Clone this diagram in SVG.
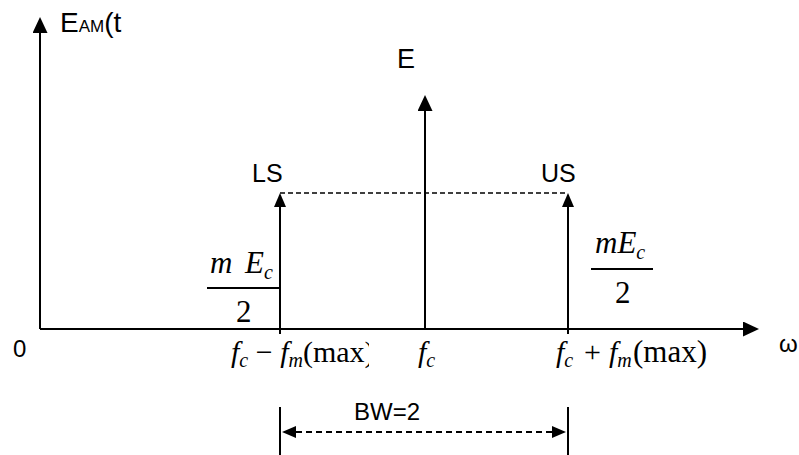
<svg xmlns="http://www.w3.org/2000/svg" width="799" height="455" viewBox="0 0 799 455">
<style>
.ln{stroke:#000;stroke-width:2;fill:none}
.dash{stroke:#000;stroke-width:1.5;fill:none;stroke-dasharray:5 3}
.sans{font-family:"Liberation Sans",Arial,sans-serif;fill:#000}
.math{font-family:"Liberation Serif","Times New Roman",serif;fill:#000;font-size:30px}
.frac{font-size:31px}
.it{font-style:italic}
</style>
<defs>
<marker id="big" markerUnits="userSpaceOnUse" markerWidth="17" markerHeight="16" refX="0" refY="7.5" orient="auto"><path d="M0,0 L16,7.5 L0,15 Z" fill="#000"/></marker>
<marker id="small" markerUnits="userSpaceOnUse" markerWidth="15" markerHeight="13" refX="0" refY="6" orient="auto"><path d="M0,0 L14,6 L0,12 Z" fill="#000"/></marker>
<marker id="smallrev" markerUnits="userSpaceOnUse" markerWidth="15" markerHeight="13" refX="0" refY="6" orient="auto-start-reverse"><path d="M0,0 L14,6 L0,12 Z" fill="#000"/></marker>
<clipPath id="clipL"><rect x="200" y="330" width="169" height="50"/></clipPath>
</defs>
<g id="connectors">
<path id="y-axis" class="ln" d="M40,329 V33" marker-end="url(#big)"/>
<path id="x-axis" class="ln" d="M40,329 H743" marker-end="url(#big)"/>
<path id="carrier" class="ln" d="M425,329 V111" marker-end="url(#big)"/>
<path id="ls-line" class="ln" d="M280,334 V207" marker-end="url(#small)"/>
<path id="us-line" class="ln" d="M568,334 V207" marker-end="url(#small)"/>
<path id="top-dash" class="dash" d="M280,193 H568"/>
<path id="tick-l" class="ln" d="M280,407 V455"/>
<path id="tick-r" class="ln" d="M568,407 V455"/>
<path id="bw-dash" class="ln" d="M296,432 H552" stroke-dasharray="6 4" marker-start="url(#smallrev)" marker-end="url(#small)"/>
</g>
<g id="axis-label-y"><text class="sans" x="60" y="32" font-size="28">E<tspan font-size="17">AM</tspan>(t</text></g>
<g id="label-E"><text class="sans" x="397" y="68" font-size="27">E</text></g>
<g id="label-LS"><text class="sans" x="252" y="182" font-size="25">LS</text></g>
<g id="label-US"><text class="sans" x="541" y="182" font-size="25">US</text></g>
<g id="frac-left">
<text class="math frac it" x="210" y="273">m</text>
<text class="math frac it" x="245" y="273">E<tspan font-size="20" dy="6">c</tspan></text>
<path class="ln" stroke-width="1.5" d="M207,288 H279"/>
<text class="math frac" x="236" y="322">2</text>
</g>
<g id="frac-right">
<text class="math frac it" x="595" y="253">mE<tspan font-size="20" dy="6">c</tspan></text>
<path class="ln" stroke-width="1.5" d="M591,269 H653"/>
<text class="math frac" x="615" y="303">2</text>
</g>
<g id="label-origin"><text class="sans" x="13" y="357" font-size="24">0</text></g>
<g id="label-omega"><text class="sans" x="779" y="352" font-size="24">ω</text></g>
<g id="label-lower"><text class="math" x="231" y="362" clip-path="url(#clipL)"><tspan class="it">f</tspan><tspan class="it" font-size="20" dy="5">c</tspan><tspan dy="-5"> − </tspan><tspan class="it">f</tspan><tspan class="it" font-size="20" dy="5">m</tspan><tspan dy="-5">(max)</tspan></text></g>
<g id="label-fc"><text class="math" x="418" y="362"><tspan class="it">f</tspan><tspan class="it" font-size="20" dy="5">c</tspan></text></g>
<g id="label-upper"><text class="math" x="556" y="362"><tspan class="it">f</tspan><tspan class="it" font-size="20" dy="5">c</tspan><tspan x="584" dy="-5">+</tspan><tspan class="it" x="609">f</tspan><tspan class="it" font-size="20" dy="5">m</tspan><tspan x="633" dy="-5" font-size="31">(max)</tspan></text></g>
<g id="label-bw"><text class="sans" x="354" y="420" font-size="24">BW=2</text></g>
</svg>
